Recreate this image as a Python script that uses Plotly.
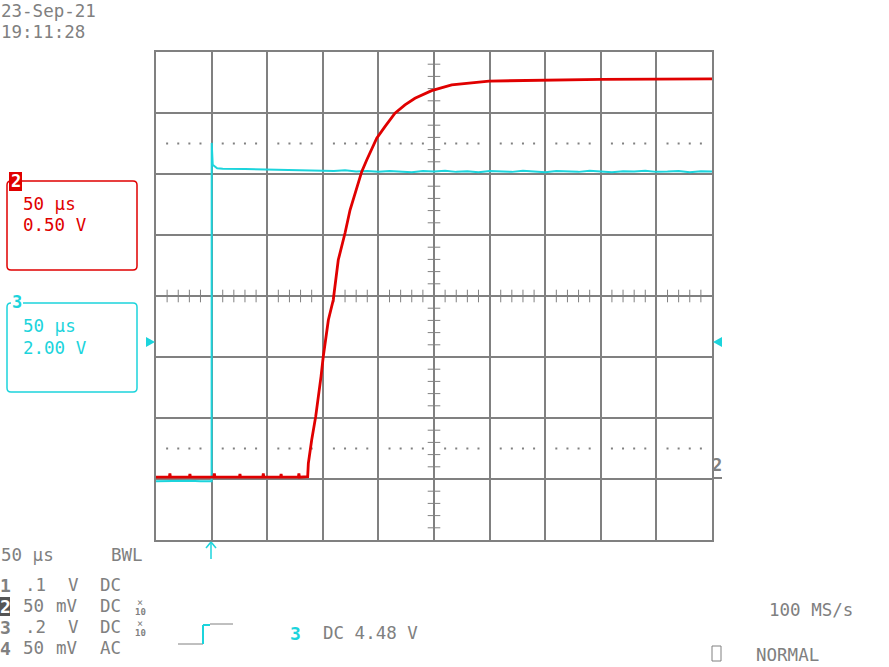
import numpy as np
import plotly.graph_objects as go

# scope settings
time_per_div = 50          # µs/div
ch2_volts_per_div = 0.5    # V/div
ch3_volts_per_div = 2.0    # V/div
ground_div = -3            # both channel grounds sit 3 div below centre

# channel 2 (red) - time in µs, volts
ch2_t = [0, 12, 12.5, 13, 30, 30.5, 31, 52, 52.5, 53, 75, 75.5, 76, 96, 96.5, 97,
         112, 112.5, 113, 128, 128.5, 129,
         136.4, 137.0, 140.0, 143.6, 148.4, 150.4, 155.0, 159.4, 163.9, 170.0, 174.5,
         179.0, 185.0, 189.5, 198.5, 205.9, 214.9, 223.9, 232.9, 247.9, 265.9, 299.5,
         345.0, 400, 450, 500]
ch2_v = [0.015, 0.015, 0.045, 0.015, 0.015, 0.04, 0.015, 0.015, 0.045, 0.015, 0.015,
         0.04, 0.015, 0.015, 0.045, 0.015, 0.015, 0.04, 0.015, 0.015, 0.045, 0.015,
         0.019, 0.129, 0.320, 0.511, 0.839, 1.002, 1.303, 1.467, 1.795, 2.016, 2.205,
         2.344, 2.519, 2.615, 2.793, 2.888, 2.998, 3.066, 3.121, 3.183, 3.230, 3.262,
         3.270, 3.275, 3.278, 3.279]

# channel 3 (cyan)
ch3_t = [0, 10, 20, 30, 40, 50, 50.1, 51, 55, 60, 80, 100, 120, 150, 160, 170, 180,
         190, 200, 210, 220, 230, 240, 250, 260, 270, 280, 290, 300, 310, 320, 330,
         340, 350, 360, 370, 380, 390, 400, 410, 420, 430, 440, 450, 460, 470, 480,
         490, 500]
ch3_v = [-0.07, -0.06, -0.07, -0.06, -0.07, -0.07, 11.02, 10.30, 10.19, 10.17, 10.16,
         10.15, 10.14, 10.12, 10.10, 10.12, 10.08, 10.1, 10.07, 10.1, 10.08, 10.06,
         10.1, 10.08, 10.11, 10.07, 10.09, 10.06, 10.1, 10.08, 10.07, 10.11, 10.08,
         10.06, 10.1, 10.08, 10.07, 10.11, 10.08, 10.06, 10.09, 10.08, 10.11, 10.07,
         10.08, 10.1, 10.06, 10.09, 10.08]

GRAY = "#808080"
RED = "#e00000"
CYAN = "#1cd4dc"
FONT = "DejaVu Sans Mono"

W, H = 889, 667
L, R, T, B = 156, 712, 52, 540


def px(x):
    return (x - L) / (R - L)


def py(y):
    return (B - y) / (B - T)


def to_div(v, vdiv):
    return np.array(v) / vdiv + ground_div


fig = go.Figure()

# graticule decorations
minor_t = [t for t in np.arange(0, 501, 10) if t % 50 != 0]
minor_y = [y for y in np.round(np.arange(-4, 4.01, 0.2), 1) if abs(y - round(y)) > 0.01]
fig.add_trace(go.Scatter(x=minor_t, y=[0] * len(minor_t), mode="markers",
                         marker=dict(symbol="line-ns", size=9, line=dict(width=1, color=GRAY)),
                         hoverinfo="skip"))
fig.add_trace(go.Scatter(x=[250] * len(minor_y), y=minor_y, mode="markers",
                         marker=dict(symbol="line-ew", size=9, line=dict(width=1, color=GRAY)),
                         hoverinfo="skip"))
for yd in (2.5, -2.5):
    fig.add_trace(go.Scatter(x=minor_t, y=[yd] * len(minor_t), mode="markers",
                             marker=dict(symbol="square", size=2, color=GRAY),
                             hoverinfo="skip"))

# traces
fig.add_trace(go.Scatter(x=ch3_t, y=to_div(ch3_v, ch3_volts_per_div), mode="lines",
                         line=dict(color=CYAN, width=2)))
fig.add_trace(go.Scatter(x=ch2_t, y=to_div(ch2_v, ch2_volts_per_div), mode="lines",
                         line=dict(color=RED, width=2.8)))

fig.update_xaxes(range=[0, 10 * time_per_div], dtick=time_per_div, showgrid=True,
                 gridcolor=GRAY, gridwidth=2, showline=True, linecolor=GRAY,
                 linewidth=2, mirror=True, showticklabels=False, zeroline=False,
                 ticks="")
fig.update_yaxes(range=[-4, 4], dtick=1, showgrid=True, gridcolor=GRAY, gridwidth=2,
                 showline=True, linecolor=GRAY, linewidth=2, mirror=True,
                 showticklabels=False, zeroline=False, ticks="")


def rounded_rect(x0, y0, x1, y1, r=4):
    # pixel coords in, paper path out
    pts = []
    pts.append(f"M {px(x0 + r)},{py(y0)}")
    pts.append(f"L {px(x1 - r)},{py(y0)}")
    pts.append(f"Q {px(x1)},{py(y0)} {px(x1)},{py(y0 + r)}")
    pts.append(f"L {px(x1)},{py(y1 - r)}")
    pts.append(f"Q {px(x1)},{py(y1)} {px(x1 - r)},{py(y1)}")
    pts.append(f"L {px(x0 + r)},{py(y1)}")
    pts.append(f"Q {px(x0)},{py(y1)} {px(x0)},{py(y1 - r)}")
    pts.append(f"L {px(x0)},{py(y0 + r)}")
    pts.append(f"Q {px(x0)},{py(y0)} {px(x0 + r)},{py(y0)} Z")
    return " ".join(pts)


shapes = [
    dict(type="path", path=rounded_rect(7, 181, 137, 270), line=dict(color=RED, width=1.5)),
    dict(type="rect", x0=px(9), x1=px(22), y0=py(191), y1=py(172), fillcolor=RED,
         line=dict(width=0)),
    dict(type="path", path=rounded_rect(7, 303, 137, 392), line=dict(color=CYAN, width=1.5)),
    dict(type="rect", x0=px(11), x1=px(23), y0=py(312), y1=py(294), fillcolor="white",
         line=dict(width=0)),
    # trigger level markers
    dict(type="path", path=f"M {px(146)},{py(337)} L {px(155)},{py(342)} L {px(146)},{py(347)} Z",
         fillcolor=CYAN, line=dict(width=0)),
    dict(type="path", path=f"M {px(722)},{py(337)} L {px(713)},{py(342)} L {px(722)},{py(347)} Z",
         fillcolor=CYAN, line=dict(width=0)),
    # trigger position arrow
    dict(type="line", x0=px(211), x1=px(211), y0=py(542), y1=py(559), line=dict(color=CYAN, width=1.5)),
    dict(type="line", x0=px(206), x1=px(211), y0=py(548), y1=py(542), line=dict(color=CYAN, width=1.5)),
    dict(type="line", x0=px(216), x1=px(211), y0=py(548), y1=py(542), line=dict(color=CYAN, width=1.5)),
    # ground marker underline
    dict(type="line", x0=px(713), x1=px(722), y0=py(478), y1=py(478), line=dict(color=GRAY, width=2)),
    # inverted channel 2 label
    dict(type="rect", x0=px(0), x1=px(10), y0=py(616), y1=py(597), fillcolor="#555555",
         line=dict(width=0)),
    # trigger slope symbol
    dict(type="line", x0=px(178), x1=px(203), y0=py(644), y1=py(644), line=dict(color=GRAY, width=1)),
    dict(type="line", x0=px(203), x1=px(203), y0=py(644), y1=py(625), line=dict(color=CYAN, width=2)),
    dict(type="line", x0=px(203), x1=px(210), y0=py(625), y1=py(625), line=dict(color=CYAN, width=2)),
    dict(type="line", x0=px(210), x1=px(233), y0=py(624), y1=py(624), line=dict(color=GRAY, width=1)),
    # acquisition box
    dict(type="rect", x0=px(712), x1=px(721), y0=py(661), y1=py(646), line=dict(color=GRAY, width=1)),
]
for s in shapes:
    s.update(xref="paper", yref="paper", layer="above")

# (text, x, y, color, size, bold, anchor)
labels = [
    ("23-Sep-21", 0, 11, GRAY, 17.5, False, "left"),
    ("19:11:28", 0, 32, GRAY, 17.5, False, "left"),
    ("2", 15.5, 181, "white", 17, True, "center"),
    ("50 µs", 22, 204, RED, 17.5, False, "left"),
    ("0.50 V", 22, 225, RED, 17.5, False, "left"),
    ("3", 17, 302, CYAN, 17, True, "center"),
    ("50 µs", 22, 326, CYAN, 17.5, False, "left"),
    ("2.00 V", 22, 348, CYAN, 17.5, False, "left"),
    ("2", 717, 465, GRAY, 17, True, "center"),
    ("50 µs", 0, 555, GRAY, 17.5, False, "left"),
    ("BWL", 110, 555, GRAY, 17.5, False, "left"),
    ("1", 5, 585, GRAY, 18, True, "center"),
    (".1", 24, 585, GRAY, 17.5, False, "left"),
    ("V", 67, 585, GRAY, 17.5, False, "left"),
    ("DC", 99, 585, GRAY, 17.5, False, "left"),
    ("2", 5, 606, "white", 18, True, "center"),
    ("50", 22, 606, GRAY, 17.5, False, "left"),
    ("mV", 55, 606, GRAY, 17.5, False, "left"),
    ("DC", 99, 606, GRAY, 17.5, False, "left"),
    ("×", 140, 602, GRAY, 10, False, "center"),
    ("10", 140, 612, GRAY, 9, True, "center"),
    ("3", 5, 627, GRAY, 18, True, "center"),
    (".2", 24, 627, GRAY, 17.5, False, "left"),
    ("V", 67, 627, GRAY, 17.5, False, "left"),
    ("DC", 99, 627, GRAY, 17.5, False, "left"),
    ("×", 140, 623, GRAY, 10, False, "center"),
    ("10", 140, 633, GRAY, 9, True, "center"),
    ("4", 5, 648, GRAY, 18, True, "center"),
    ("50", 22, 648, GRAY, 17.5, False, "left"),
    ("mV", 55, 648, GRAY, 17.5, False, "left"),
    ("AC", 99, 648, GRAY, 17.5, False, "left"),
    ("3", 295, 633, CYAN, 18, True, "center"),
    ("DC 4.48 V", 322, 633, GRAY, 17.5, False, "left"),
    ("100 MS/s", 768, 610, GRAY, 17.5, False, "left"),
    ("NORMAL", 755, 655, GRAY, 17.5, False, "left"),
]
annotations = []
for text, x, y, color, size, bold, anchor in labels:
    annotations.append(dict(
        text=f"<b>{text}</b>" if bold else text,
        x=px(x), y=py(y), xref="paper", yref="paper", showarrow=False,
        xanchor=anchor, yanchor="middle", borderpad=0,
        font=dict(family=FONT, size=size, color=color),
    ))

fig.update_layout(
    width=W, height=H,
    margin=dict(l=L, r=W - R, t=T, b=H - B, pad=0),
    paper_bgcolor="white", plot_bgcolor="white",
    showlegend=False,
    shapes=shapes,
    annotations=annotations,
)

# drop the browser's default body margin so the figure sits at the page corner
fig.write_html("out.html", config={"displayModeBar": False},
               post_script="document.body.style.margin='0';")
